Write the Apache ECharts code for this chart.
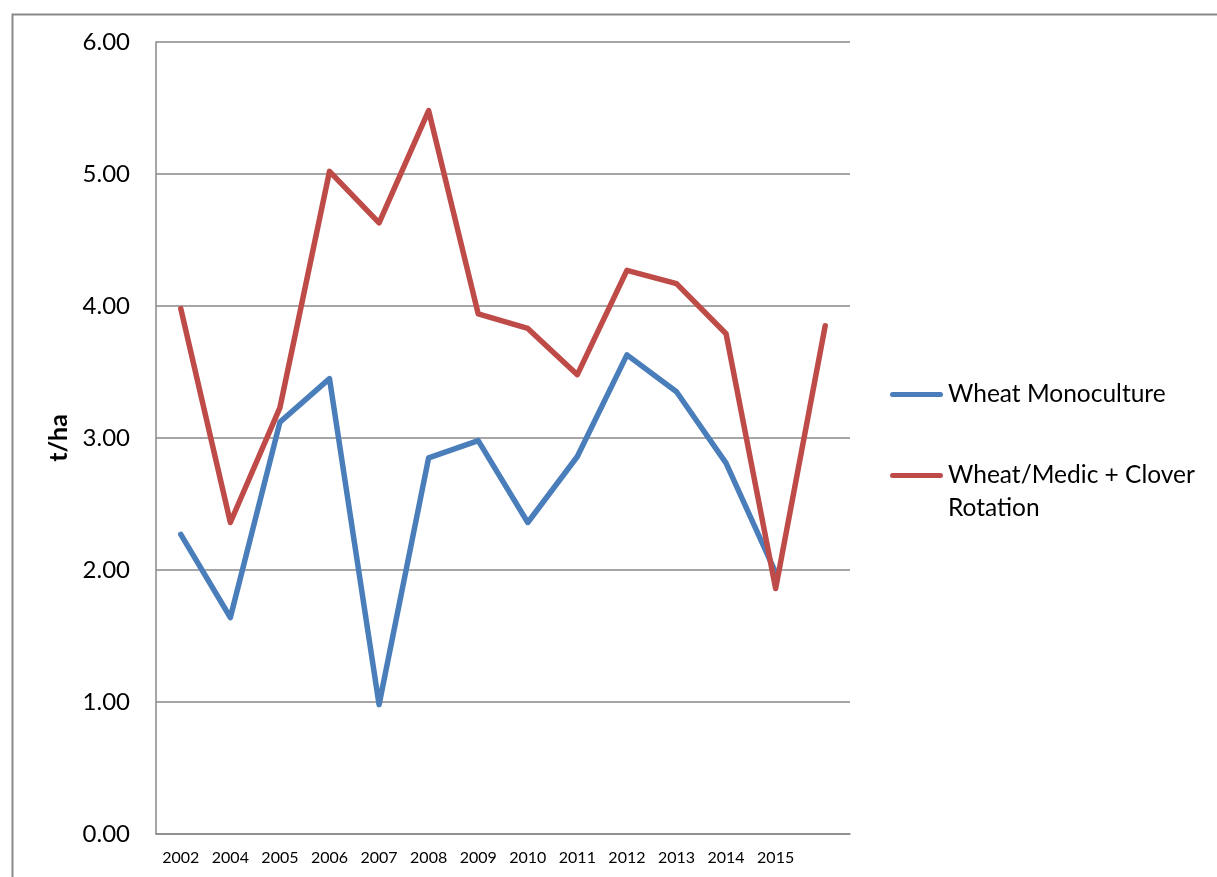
<!DOCTYPE html>
<html>
<head>
<meta charset="utf-8">
<title>Wheat yield</title>
<script src="https://cdn.jsdelivr.net/npm/echarts@6/dist/echarts.min.js"></script>
<style>
  html, body { margin: 0; padding: 0; background: #fff; }
  #chart { width: 1217px; height: 877px; }
</style>
</head>
<body>
<div id="chart"></div>
<script>
// Seasons on the category axis; the final season carries no printed label
const years = ['2002', '2004', '2005', '2006', '2007', '2008', '2009', '2010', '2011', '2012', '2013', '2014', '2015', ''];

// Grain yield, t/ha
const monoculture = [2.27, 1.64, 3.12, 3.45, 0.98, 2.85, 2.98, 2.36, 2.86, 3.63, 3.35, 2.81, 1.98, null];
const rotation    = [3.98, 2.36, 3.23, 5.02, 4.63, 5.48, 3.94, 3.83, 3.48, 4.27, 4.17, 3.79, 1.86, 3.85];

const yTicks = { min: 0, max: 6, interval: 1 };

const seriesNames = ['Wheat Monoculture', 'Wheat/Medic + Clover Rotation'];

const FONT = 'Lato, "Open Sans", sans-serif';
const GRID_GRAY = '#898989';

// Thick rounded legend stroke; the second variant keeps the stroke at the top
// of a taller box so it lines up with the first line of a wrapped label.
const LEGEND_STROKE = 'path://M2.5,0H50.5A2.5,2.5 0 0 1 50.5,5H2.5A2.5,2.5 0 0 1 2.5,0Z';
const LEGEND_STROKE_TOP = 'path://M2.5,0H50.5A2.5,2.5 0 0 1 50.5,5H2.5A2.5,2.5 0 0 1 2.5,0ZM0,38L0.01,38';

const chart = echarts.init(document.getElementById('chart'), null, { renderer: 'canvas' });

chart.setOption({
  backgroundColor: '#ffffff',
  animation: false,
  textStyle: { fontFamily: FONT, color: '#000' },
  graphic: [{
    type: 'rect',
    left: 10, top: 12,
    shape: { width: 1400, height: 1000 },
    style: { fill: 'none', stroke: GRID_GRAY, lineWidth: 2 },
    silent: true
  }],
  grid: { left: 156, right: 367, top: 42, bottom: 43, containLabel: false },
  legend: [{
    orient: 'vertical',
    left: 890, top: 378,
    padding: 0,
    itemWidth: 53, itemHeight: 5,
    icon: LEGEND_STROKE,
    data: [seriesNames[0]],
    textStyle: { fontFamily: FONT, fontSize: 24.5, color: '#000', lineHeight: 33 }
  }, {
    orient: 'vertical',
    left: 890, top: 459,
    padding: 0,
    itemWidth: 53, itemHeight: 38,
    icon: LEGEND_STROKE_TOP,
    data: [seriesNames[1]],
    formatter: function () { return 'Wheat/Medic + Clover\nRotation'; },
    textStyle: { fontFamily: FONT, fontSize: 24.5, color: '#000', lineHeight: 33 }
  }],
  xAxis: {
    type: 'category',
    data: years,
    boundaryGap: true,
    axisLine: { show: true, lineStyle: { color: GRID_GRAY, width: 1.5 } },
    axisTick: { show: false },
    axisLabel: { fontFamily: FONT, fontSize: 16, color: '#000', margin: 16, interval: 0 },
    splitLine: { show: false }
  },
  yAxis: {
    type: 'value',
    min: yTicks.min, max: yTicks.max, interval: yTicks.interval,
    name: 't/ha',
    nameLocation: 'middle',
    nameRotate: 90,
    nameGap: 82,
    nameTextStyle: { fontFamily: FONT, fontSize: 25, fontWeight: 'bold', color: '#000' },
    axisLine: { show: true, lineStyle: { color: GRID_GRAY, width: 1.5 } },
    axisTick: { show: false },
    axisLabel: {
      fontFamily: FONT, fontSize: 24, color: '#000', margin: 26,
      formatter: function (v) { return v.toFixed(2); }
    },
    splitLine: { show: true, lineStyle: { color: GRID_GRAY, width: 1.5 } }
  },
  series: [{
    name: seriesNames[0],
    type: 'line',
    data: monoculture,
    showSymbol: false,
    symbol: 'none',
    color: '#4A7EBB',
    lineStyle: { width: 5.5, cap: 'round', join: 'round' }
  }, {
    name: seriesNames[1],
    type: 'line',
    data: rotation,
    showSymbol: false,
    symbol: 'none',
    color: '#BE4B48',
    lineStyle: { width: 5.5, cap: 'round', join: 'round' }
  }]
});
</script>
</body>
</html>
